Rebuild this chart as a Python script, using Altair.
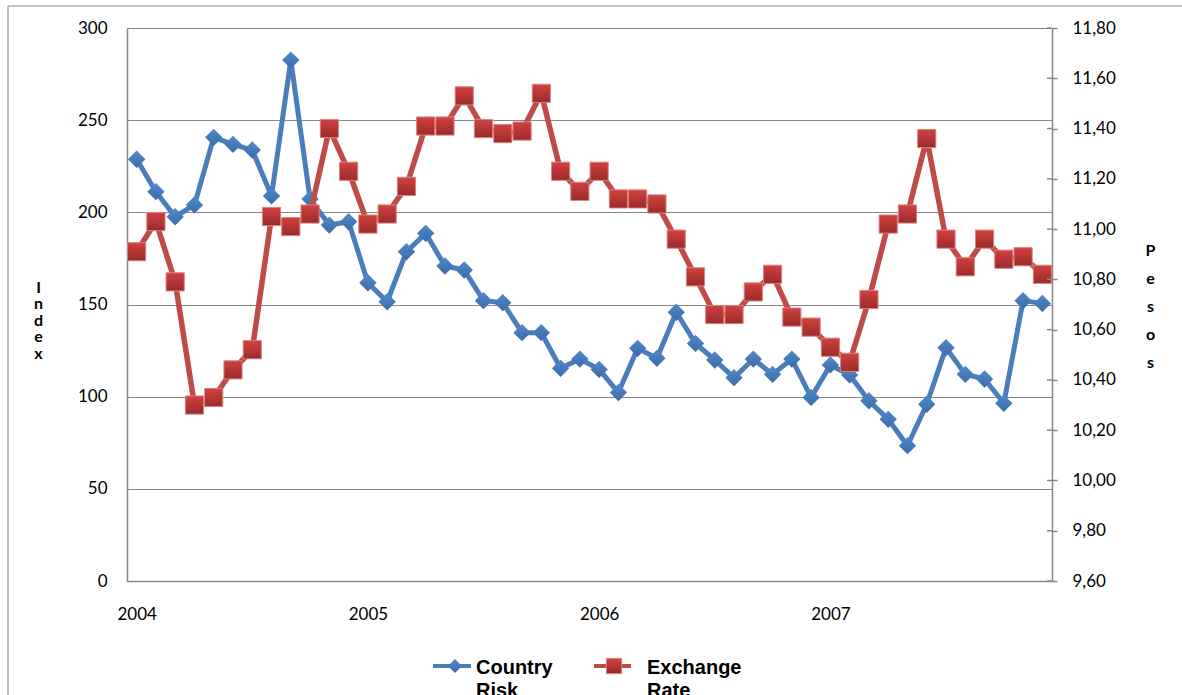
import altair as alt
import pandas as pd

# Monthly observations, January 2004 .. December 2007
year_labels = [2004, 2005, 2006, 2007]
year_positions = [0, 12, 24, 36]

country_risk = [
    228.8, 211.2, 197.6, 204.0, 240.7, 236.9, 233.8, 208.9, 282.6, 207.2, 193.1, 194.9,
    161.8, 151.5, 178.6, 188.6, 170.9, 168.7, 152.1, 151.0, 134.7, 134.7, 115.4, 120.4,
    114.8, 102.2, 126.2, 120.8, 145.8, 128.9, 119.9, 110.3, 120.4, 112.1, 120.4, 99.6,
    117.2, 111.8, 97.8, 87.7, 73.4, 95.9, 126.6, 112.1, 109.6, 96.4, 152.1, 150.6,
]

exchange_rate = [
    10.91, 11.03, 10.79, 10.30, 10.33, 10.44, 10.52, 11.05, 11.01, 11.06, 11.40, 11.23,
    11.02, 11.06, 11.17, 11.41, 11.41, 11.53, 11.40, 11.38, 11.39, 11.54, 11.23, 11.15,
    11.23, 11.12, 11.12, 11.10, 10.96, 10.81, 10.66, 10.66, 10.75, 10.82, 10.65, 10.61,
    10.53, 10.47, 10.72, 11.02, 11.06, 11.36, 10.96, 10.85, 10.96, 10.88, 10.89, 10.82,
]

index_ticks = [0, 50, 100, 150, 200, 250, 300]
peso_ticks = [9.60, 9.80, 10.00, 10.20, 10.40, 10.60, 10.80, 11.00, 11.20, 11.40, 11.60, 11.80]
series_names = ["Country Risk", "Exchange Rate"]

df = pd.DataFrame({
    "month": list(range(len(country_risk))),
    "risk": country_risk,
    "rate": exchange_rate,
})
peso_tick_df = pd.DataFrame({"rate": peso_ticks})

BLUE = "#4A7EBB"
RED = "#BE4B48"
GREY = "#878787"
FONT = "Lato"
W, H = 925, 553

blue_fill = alt.LinearGradient(
    gradient="linear", x1=0, y1=0, x2=0, y2=1,
    stops=[alt.GradientStop(offset=0, color="#5089CB"),
           alt.GradientStop(offset=1, color="#3A6CA8")],
)
red_fill = alt.LinearGradient(
    gradient="linear", x1=0, y1=0, x2=0, y2=1,
    stops=[alt.GradientStop(offset=0, color="#D2413F"),
           alt.GradientStop(offset=1, color="#992B2A")],
)

x_enc = alt.X(
    "month:Q",
    scale=alt.Scale(domain=[-0.5, len(country_risk) - 0.5], nice=False, zero=False),
    axis=alt.Axis(
        values=year_positions,
        labelExpr=f"format({year_labels[0]} + datum.value / 12, 'd')",
        title=None, grid=False, ticks=False,
        domainColor=GREY, domainWidth=1.5,
        labelFont=FONT, labelFontSize=17, labelColor="#000000",
        labelPadding=25, labelFlush=False,
    ),
)

risk_y = alt.Y(
    "risk:Q",
    scale=alt.Scale(domain=[0, 300], nice=False),
    axis=alt.Axis(
        values=index_ticks, grid=True, gridColor=GREY, gridWidth=1,
        ticks=False, domainColor=GREY, domainWidth=1.5,
        labelFont=FONT, labelFontSize=17, labelColor="#000000", labelPadding=20,
        title=["I", "n", "d", "e", "x"], titleAngle=0,
        titleX=-89, titleY=259, titleAlign="center", titleBaseline="middle",
        titleFont=FONT, titleFontSize=16, titleFontWeight="bold",
        titleLineHeight=16.5, titleColor="#000000",
    ),
)

rate_y = alt.Y(
    "rate:Q",
    scale=alt.Scale(domain=[9.6, 11.8], nice=False, zero=False),
    axis=alt.Axis(
        orient="right", values=peso_ticks, grid=False,
        ticks=True, tickSize=5, tickColor=GREY, tickWidth=1.5,
        domainColor=GREY, domainWidth=1.5,
        labelExpr="replace(format(datum.value, '.2f'), '.', ',')",
        labelFont=FONT, labelFontSize=17, labelColor="#000000", labelPadding=15,
        title=["P", "e", "s", "o", "s"], titleAngle=0,
        titleX=98, titleY=222, titleAlign="center", titleBaseline="middle",
        titleFont=FONT, titleFontSize=16, titleFontWeight="bold",
        titleLineHeight=28, titleColor="#000000",
    ),
)

base = alt.Chart(df)

risk_layer = alt.layer(
    base.mark_line(color=BLUE, strokeWidth=5, strokeJoin="round").encode(x=x_enc, y=risk_y),
    base.mark_point(shape="diamond", filled=True, fill=blue_fill, size=300, opacity=1)
        .encode(x=x_enc, y="risk:Q"),
)

rate_layer = alt.layer(
    base.mark_line(color=RED, strokeWidth=5.5, strokeJoin="round").encode(x=x_enc, y=rate_y),
    base.mark_point(shape="square", filled=True, fill=red_fill, size=330, opacity=1,
                    stroke="#D98280", strokeWidth=1)
        .encode(x=x_enc, y="rate:Q"),
    # inner half of the crossing ticks on the peso axis
    alt.Chart(peso_tick_df).mark_rule(color=GREY, strokeWidth=1.5)
        .encode(y="rate:Q", x=alt.value(W - 5), x2=alt.value(W)),
)

# outer frame of the chart
frame = alt.Chart(pd.DataFrame({"f": [0]})).mark_rect(
    fillOpacity=0, stroke=GREY, strokeWidth=1
).encode(x=alt.value(-119), x2=alt.value(W + 140), y=alt.value(-22), y2=alt.value(H + 150))

# legend below the plot
legend_text = dict(align="left", baseline="alphabetic", font="Liberation Sans",
                   fontWeight="bold", fontSize=20, lineBreak=" ", lineHeight=23, color="#000000")
one = pd.DataFrame({"name": [series_names[0]]})
two = pd.DataFrame({"name": [series_names[1]]})
legend = alt.layer(
    alt.Chart(one).mark_rule(color=BLUE, strokeWidth=4)
        .encode(x=alt.value(306), x2=alt.value(344), y=alt.value(638)),
    alt.Chart(one).mark_point(shape="diamond", filled=True, fill=blue_fill, size=200, opacity=1)
        .encode(x=alt.value(328), y=alt.value(638)),
    alt.Chart(one).mark_text(**legend_text).encode(text="name:N", x=alt.value(349), y=alt.value(646)),
    alt.Chart(two).mark_rule(color=RED, strokeWidth=4)
        .encode(x=alt.value(467), x2=alt.value(504), y=alt.value(638)),
    alt.Chart(two).mark_point(shape="square", filled=True, fill=red_fill, size=230, opacity=1,
                              stroke="#D98280", strokeWidth=1)
        .encode(x=alt.value(487), y=alt.value(638)),
    alt.Chart(two).mark_text(**legend_text).encode(text="name:N", x=alt.value(520), y=alt.value(646)),
)

chart = alt.layer(frame, risk_layer, rate_layer, legend).resolve_scale(
    y="independent"
).properties(
    width=W, height=H,
    autosize=alt.AutoSizeParams(type="none"),
    padding={"left": 127, "top": 28, "right": 130, "bottom": 114},
    background="#FFFFFF",
).configure_view(stroke=None)

chart.save("out.html", embed_options={"renderer": "svg", "actions": False})
